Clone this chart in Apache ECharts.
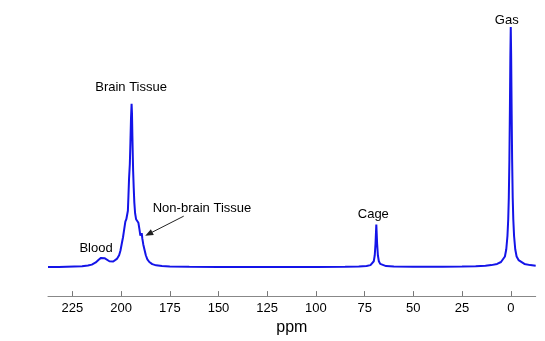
<!DOCTYPE html>
<html>
<head>
<meta charset="utf-8">
<script src="https://cdn.jsdelivr.net/npm/echarts@6/dist/echarts.min.js"></script>
<style>
html,body{margin:0;padding:0;background:#fff;}
#chart{width:545px;height:341px;}
</style>
</head>
<body>
<div id="chart"></div>
<script>
// Chemical shift (ppm) and signal intensity
var ppm = [237.5,232,228,224,220,217,215,213,211.5,210.3,209.5,208.5,207.5,206,205,204,203,202,201,200.3,199.6,199,198.4,197.8,197.3,196.9,196.5,196.2,195.9,195.7,195.5,195.2,194.9,194.6,194.4,194.2,194.0,193.8,193.5,193.2,192.8,192.3,191.9,191.5,191.1,190.6,190.1,189.7,189.4,189.1,188.6,188,187.3,186.5,185.5,184,182,179,175,165,150,125,100,85,78,74,72,71,70.3,69.8,69.4,69.15,69.0,68.85,68.6,68.2,67.7,67,66,64,60,50,35,25,18,13,10,7,5,4,3,2.3,1.7,1.3,1.0,0.7,0.45,0.2,0,-0.2,-0.45,-0.7,-1.0,-1.3,-1.7,-2.3,-3,-4,-5,-7,-10,-12.8];
var intensity = [0.001,0.001,0.002,0.003,0.004,0.007,0.011,0.02,0.031,0.039,0.041,0.038,0.032,0.025,0.023,0.024,0.028,0.036,0.05,0.07,0.1,0.125,0.158,0.19,0.2,0.205,0.235,0.3,0.37,0.375,0.43,0.52,0.62,0.68,0.64,0.55,0.47,0.4,0.33,0.27,0.225,0.2,0.195,0.205,0.185,0.16,0.132,0.135,0.142,0.12,0.095,0.074,0.05,0.033,0.022,0.013,0.008,0.005,0.003,0.002,0.001,0.001,0.001,0.002,0.003,0.005,0.009,0.014,0.025,0.05,0.1,0.15,0.178,0.15,0.1,0.05,0.025,0.014,0.009,0.005,0.003,0.002,0.002,0.003,0.004,0.006,0.009,0.014,0.022,0.03,0.045,0.075,0.13,0.2,0.29,0.45,0.65,0.88,1.0,0.88,0.65,0.45,0.29,0.2,0.13,0.075,0.045,0.03,0.022,0.014,0.009,0.006];
var tickValues = [0,25,50,75,100,125,150,175,200,225];
var annotationTexts = ['Gas','Brain Tissue','Non-brain Tissue','Cage','Blood'];
var annotationAnchors = [[0,1.0],[194.6,0.68],[189.4,0.142],[69.0,0.178],[209.5,0.041]];

var FONT = '"Liberation Sans", Arial, sans-serif';
var chart = echarts.init(document.getElementById('chart'), null, {renderer:'canvas'});
var pts = ppm.map(function(p,i){return [p, intensity[i]];});

chart.setOption({
  animation:false,
  backgroundColor:'#fff',
  grid:{left:48,right:9.3,top:27,bottom:42,containLabel:false},
  xAxis:{
    type:'value', inverse:true, min:-12.8, max:237.5,
    name:'ppm', nameLocation:'middle', nameGap:19,
    nameTextStyle:{fontFamily:FONT,fontSize:16,color:'#000',verticalAlign:'top'},
    axisLine:{show:true,onZero:false,lineStyle:{color:'#888',width:1}},
    axisTick:{show:true,inside:true,length:5,lineStyle:{color:'#777'},customValues:tickValues},
    axisLabel:{fontFamily:FONT,fontSize:13,color:'#000',margin:6,customValues:tickValues},
    splitLine:{show:false}
  },
  yAxis:{type:'value',min:-0.12,max:1.0,show:false,splitLine:{show:false}},
  series:[{
    type:'line', data:pts, symbol:'none', smooth:false,
    lineStyle:{color:'#1414e8',width:2},
    z:3
  }]
});

var offsets = [[-4,-7],[-0.5,-16],[11,-25],[-3,-10],[-6.5,-9]];
var aligns = ['center','center','left','center','center'];
var graphics = [];
annotationTexts.forEach(function(t,i){
  var p = chart.convertToPixel({gridIndex:0}, annotationAnchors[i]);
  graphics.push({
    type:'text', x:p[0]+offsets[i][0], y:p[1]+offsets[i][1], z:10,
    style:{text:t, fontFamily:FONT, fontSize:13, fill:'#000', textAlign:aligns[i], textVerticalAlign:'middle'}
  });
});
// arrow for Non-brain Tissue
var a = chart.convertToPixel({gridIndex:0}, annotationAnchors[2]);
var tail = [a[0]+42, a[1]-17], tip = [a[0]+3.5, a[1]+2.6];
var dx = tip[0]-tail[0], dy = tip[1]-tail[1], L = Math.sqrt(dx*dx+dy*dy);
var ux = dx/L, uy = dy/L, hl = 8, hw = 3.2;
var bx = tip[0]-ux*hl, by = tip[1]-uy*hl;
graphics.push({type:'line', z:10, shape:{x1:tail[0],y1:tail[1],x2:bx+ux*2,y2:by+uy*2}, style:{stroke:'#222',lineWidth:1}});
graphics.push({type:'polygon', z:10, shape:{points:[[tip[0],tip[1]],[bx-uy*hw,by+ux*hw],[bx+uy*hw,by-ux*hw]]}, style:{fill:'#222'}});
chart.setOption({graphic:graphics});
</script>
</body>
</html>
